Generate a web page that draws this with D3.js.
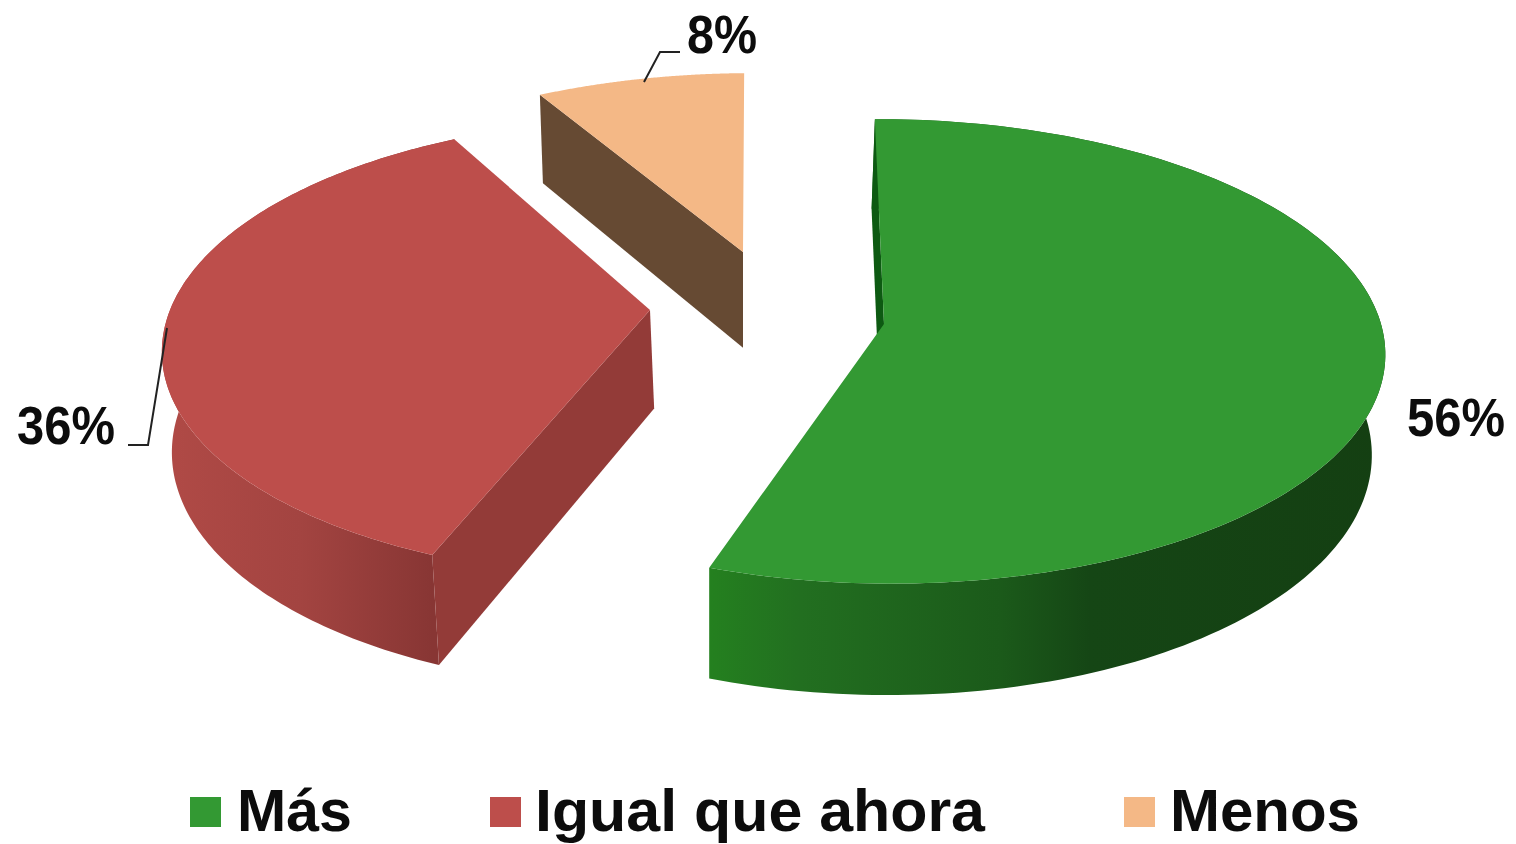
<!DOCTYPE html>
<html lang="es">
<head>
<meta charset="utf-8">
<script src="https://cdn.jsdelivr.net/npm/d3@7"></script>
<style>
html,body{margin:0;padding:0;background:#fff;overflow:hidden}
svg{display:block;filter:blur(.5px)}
text{font-family:"Liberation Sans",Arial,sans-serif;font-weight:bold;fill:#0c0c0c}
</style>
</head>
<body>
<svg id="chart" width="1516" height="844"></svg>
<script>
// ---- data ----
const categories = ["Más", "Igual que ahora", "Menos"];
const seriesValues = [56, 36, 8];
const valueLabels = ["56%", "36%", "8%"];

// ---- styles ----
const topColors = ["#339933", "#bd4e4b", "#f4b886"];
const radialWallColors = ["#0d5a12", "#933b38", "#664a33"];
const wallStops = [
  [[710, "#24801f"], [800, "#226f20"], [1000, "#1b5a1a"], [1090, "#154615"], [1383, "#143f12"]],
  [[165, "#b04a46"], [300, "#a34441"], [432, "#883634"]],
  [[540, "#664a33"], [745, "#664a33"]]
];

// ---- layout of the exploded, tilted pie ----
const W = 1516, H = 844;
const sliceGeom = [
  {ax: 884, ay: 324, rx: 497, ry: 229, p: 0.118, vx: 827, rot: -0.4, span: 0.989, pivot: 710, shrink: 0.98, outer: true},
  {ax: 650, ay: 310, rx: 480, ry: 223, p: 0.165, vx: 700, rot: 0, span: 1, pivot: 996, shrink: 0.988, outer: true},
  {ax: 743, ay: 252, rx: 467, ry: 200, p: 0.118, vx: 837, rot: -1.2, span: 1, pivot: 743, shrink: 0.985, outer: false}
];
const labelPos = [
  {x: 1407, y: 436, w: 98},
  {x: 17, y: 444, w: 98},
  {x: 687, y: 53, w: 70}
];
const leaders = [
  null,
  [[167, 328], [148, 445], [128, 445]],
  [[644, 82], [660, 52], [680, 52]]
];
const legendPos = [
  {sx: 190, tx: 237, tw: 115},
  {sx: 490, tx: 535, tw: 450},
  {sx: 1124, tx: 1170, tw: 190}
];

const svg = d3.select("#chart");
const defs = svg.append("defs");
const line = d3.line();
const pie = d3.pie().sort(null).startAngle(0).endAngle(2 * Math.PI);
const arcs = pie(seriesValues);

// circle in the pie plane -> screen, with perspective
function project(g, theta, r) {
  const X = r * Math.sin(theta), Y = r * Math.cos(theta);
  const s = 1 / (1 + g.p * Y);
  return [
    g.vx + (g.ax - g.vx) * s + g.rx * X * s,
    g.ay - g.ry * Y * s
  ];
}

arcs.forEach((a, i) => {
  const g = sliceGeom[i];
  // top face point -> bottom face point
  const extrude = p => [g.pivot + (p[0] - g.pivot) * g.shrink, p[1] + 84 + 0.047 * p[1]];
  const id = "wall" + i;
  const grad = defs.append("linearGradient").attr("id", id)
    .attr("gradientUnits", "userSpaceOnUse")
    .attr("x1", wallStops[i][0][0]).attr("x2", wallStops[i][wallStops[i].length - 1][0])
    .attr("y1", 0).attr("y2", 0);
  const x0 = wallStops[i][0][0], x1 = wallStops[i][wallStops[i].length - 1][0];
  wallStops[i].forEach(s => grad.append("stop")
    .attr("offset", (s[0] - x0) / (x1 - x0)).attr("stop-color", s[1]));

  const n = 160;
  const rad = g.rot * Math.PI / 180;
  const sweep = (a.endAngle - a.startAngle) * g.span;
  const rim = d3.range(n + 1).map(k =>
    project(g, a.startAngle + rad + sweep * k / n, 1));
  const apex = project(g, 0, 0);
  const group = svg.append("g").attr("class", "slice");

  // outer wall
  if (g.outer) {
    group.append("path")
      .attr("d", line(rim.concat(rim.map(extrude).reverse())) + "Z")
      .attr("fill", `url(#${id})`);
  }
  // visible cut wall, from the start edge
  const q = [rim[0], apex, extrude(apex), extrude(rim[0])];
  group.append("path").attr("d", line(q) + "Z").attr("fill", radialWallColors[i]);
  // top face
  group.append("path")
    .attr("d", line([apex].concat(rim)) + "Z")
    .attr("fill", topColors[i]);
});

// leader lines
leaders.forEach(l => {
  if (!l) return;
  svg.append("path").attr("d", line(l)).attr("fill", "none")
    .attr("stroke", "#222").attr("stroke-width", 2);
});

// value labels
valueLabels.forEach((t, i) => {
  const p = labelPos[i];
  svg.append("text").attr("x", p.x).attr("y", p.y)
    .attr("font-size", 54)
    .attr("textLength", p.w).attr("lengthAdjust", "spacingAndGlyphs")
    .text(t);
});

// legend
categories.forEach((c, i) => {
  const p = legendPos[i];
  svg.append("rect").attr("x", p.sx).attr("y", 797).attr("width", 31).attr("height", 30)
    .attr("fill", topColors[i]);
  svg.append("text").attr("x", p.tx).attr("y", 831)
    .attr("font-size", 60)
    .attr("textLength", p.tw).attr("lengthAdjust", "spacingAndGlyphs")
    .text(c);
});
</script>
</body>
</html>
